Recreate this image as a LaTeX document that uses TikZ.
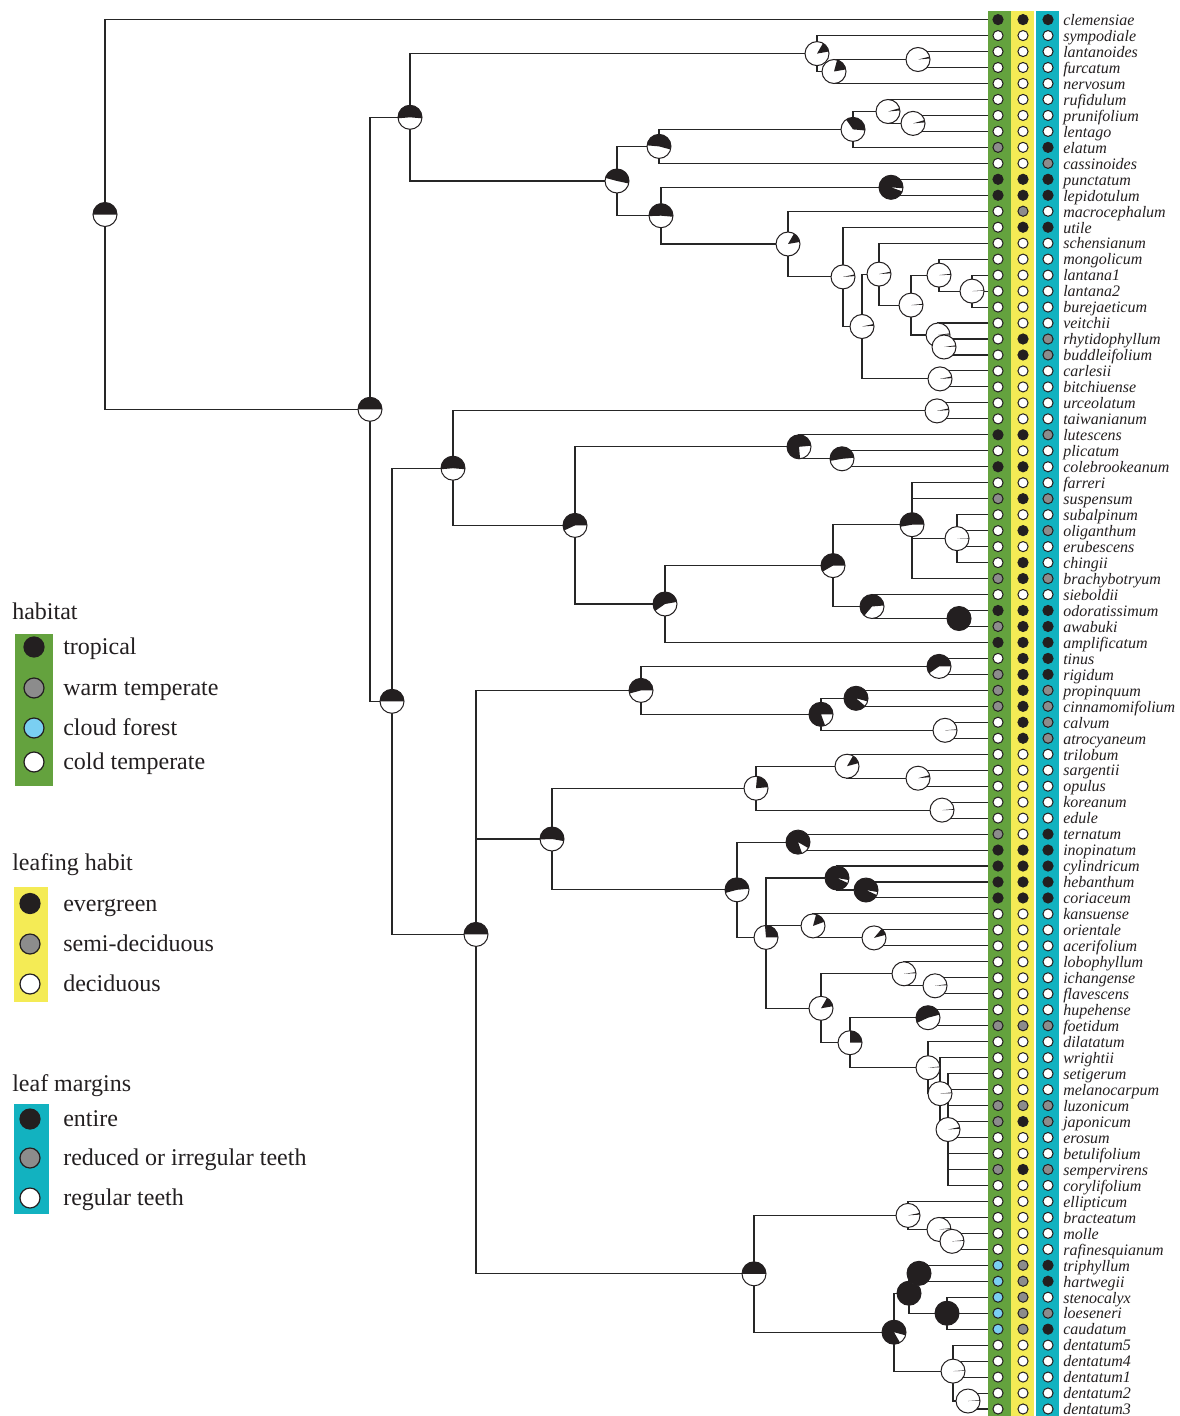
\documentclass[tikz,border=0pt]{standalone}
\usepackage{fontspec}
\setmainfont{Liberation Serif}
\usetikzlibrary{positioning}

\definecolor{habgreen}{HTML}{64A23E}
\definecolor{leafyellow}{HTML}{F4EB55}
\definecolor{margcyan}{HTML}{12B2C0}
\definecolor{st0}{HTML}{FFFFFF}
\definecolor{st1}{HTML}{8C8C8C}
\definecolor{st2}{HTML}{231F20}
\definecolor{st3}{HTML}{7ACFF2}
\definecolor{inkgrey}{HTML}{231F20}

\tikzset{
  branch/.style={line width=0.8pt, draw=black!85},
  tipdot/.style={circle, draw=inkgrey, line width=0.75pt, inner sep=0pt, minimum size=7.6pt},
  keydot/.style={circle, draw=inkgrey, line width=0.9pt, inner sep=0pt, minimum size=15pt},
  tiplabel/.style={anchor=base west, inner sep=0pt, font=\fontsize{12}{12}\selectfont\itshape, text=inkgrey},
  keytitle/.style={anchor=base west, inner sep=0pt, font=\fontsize{18}{18}\selectfont, text=inkgrey},
  keylabel/.style={anchor=base west, inner sep=0pt, font=\fontsize{18}{18}\selectfont, text=inkgrey}
}

% ancestral state pie: node, start angle, end angle of the black part
\newcommand{\ancpie}[3]{%
  \fill[white] (#1) circle (9pt);
  \fill[inkgrey] (#1) -- ++(#2:9pt) arc[start angle=#2, end angle=#3, radius=9pt] -- cycle;
  \draw[line width=0.75pt, inkgrey] (#1) circle (9pt);
}

\begin{document}
\begin{tikzpicture}[x=0.75pt, y=-0.75pt]
\useasboundingbox (0,0) rectangle (1180,1416);

% Character strips
        \fill[habgreen] (988,11) rectangle (1011,1416);
        \fill[leafyellow] (1011,11) rectangle (1034,1416);
        \fill[margcyan] (1036,11) rectangle (1059,1416);

% Tips
        \foreach \i/\tname/\hab/\lfh/\mrg in {
          1/clemensiae/2/2/2, 2/sympodiale/0/0/0, 3/lantanoides/0/0/0, 4/furcatum/0/0/0,
          5/nervosum/0/0/0, 6/rufidulum/0/0/0, 7/prunifolium/0/0/0, 8/lentago/0/0/0,
          9/elatum/1/0/2, 10/cassinoides/0/0/1, 11/punctatum/2/2/2, 12/lepidotulum/2/2/2,
          13/macrocephalum/0/1/0, 14/utile/0/2/2, 15/schensianum/0/0/0, 16/mongolicum/0/0/0,
          17/lantana1/0/0/0, 18/lantana2/0/0/0, 19/burejaeticum/0/0/0, 20/veitchii/0/0/0,
          21/rhytidophyllum/0/2/1, 22/buddleifolium/0/2/1, 23/carlesii/0/0/0, 24/bitchiuense/0/0/0,
          25/urceolatum/0/0/0, 26/taiwanianum/0/0/0, 27/lutescens/2/2/1, 28/plicatum/0/0/0,
          29/colebrookeanum/2/2/0, 30/farreri/0/0/0, 31/suspensum/1/2/1, 32/subalpinum/0/0/0,
          33/oliganthum/0/2/1, 34/erubescens/0/0/0, 35/chingii/0/2/0, 36/brachybotryum/1/2/1,
          37/sieboldii/0/0/0, 38/odoratissimum/2/2/2, 39/awabuki/1/2/2, 40/amplificatum/2/2/2,
          41/tinus/0/2/2, 42/rigidum/1/2/2, 43/propinquum/1/2/1, 44/cinnamomifolium/1/2/1,
          45/calvum/0/2/1, 46/atrocyaneum/0/2/1, 47/trilobum/0/0/0, 48/sargentii/0/0/0,
          49/opulus/0/0/0, 50/koreanum/0/0/0, 51/edule/0/0/0, 52/ternatum/1/0/2,
          53/inopinatum/2/2/2, 54/cylindricum/2/2/2, 55/hebanthum/2/2/2, 56/coriaceum/2/2/2,
          57/kansuense/0/0/0, 58/orientale/0/0/0, 59/acerifolium/0/0/0, 60/lobophyllum/0/0/0,
          61/ichangense/0/0/0, 62/flavescens/0/0/0, 63/hupehense/0/0/0, 64/foetidum/1/1/1,
          65/dilatatum/0/0/0, 66/wrightii/0/0/0, 67/setigerum/0/0/0, 68/melanocarpum/0/0/0,
          69/luzonicum/1/1/1, 70/japonicum/1/2/1, 71/erosum/0/0/0, 72/betulifolium/0/0/0,
          73/sempervirens/1/2/1, 74/corylifolium/0/0/0, 75/ellipticum/0/0/0, 76/bracteatum/0/0/0,
          77/molle/0/0/0, 78/rafinesquianum/0/0/0, 79/triphyllum/3/1/2, 80/hartwegii/3/1/2,
          81/stenocalyx/3/1/0, 82/loeseneri/3/1/1, 83/caudatum/3/1/2, 84/dentatum5/0/0/0,
          85/dentatum4/0/0/0, 86/dentatum1/0/0/0, 87/dentatum2/0/0/0, 88/dentatum3/0/0/0} {
          \pgfmathsetmacro\ty{19.6+(\i-1)*15.97}
          \coordinate (t\i) at (988,\ty);
          \node[tipdot, fill=st\hab] (h\i) at (998,\ty) {};
          \node[tipdot, fill=st\lfh] (f\i) at (1023,\ty) {};
          \node[tipdot, fill=st\mrg] (g\i) at (1048,\ty) {};
          \node[tiplabel] (lab\i) at (1063,\ty+5.8) {\tname};
        }

% Internal nodes
        \foreach \n/\x/\y in {
          root/105/214.5, nO/370/409.3, nE/410/117.3, nA3/817/53.6, nA2/834/71.5, nA1/918/59.5,
          nD/617/181.0, nB4/659/146.4, nB3/853/129.4, nB2/888/111.5, nB1/913/123.4,
          nC9/661/215.7, nC1/891/187.3, nC8/788/244.0, nC7/843/276.9, nC6/862/326.5,
          nC5/879/274.1, nC4/911/305.1, nCm/939/275.1, nCl/972/291.1, nCv/938/335.0,
          nCr/944/347.0, nCcb/940/378.9,
          nN/392/701.3, nF11/453/468.2, nF1/937/410.9, nF10/575/525.4, nF3/799/446.8,
          nF2/842/458.8, nF9/665/604.0, nF8/833/565.6, nF5/912/524.7, nF4/957/538.6,
          nF7/872/606.5, nF6/959/618.5,
          nM/476/934.4, nG5/641/690.4, nG1/939/666.4, nG4/821/714.3, nG2/856/698.3, nG3/945/730.3,
          nH5/552/839.0, nH4/756/788.2, nH2/847/766.2, nH1/918/778.2, nH3/942/810.1,
          nI7/737/889.8, nI1/798/842.1, nI6/766/937.4, nI3/837/878.0, nI2/866/890.0,
          nI5/813/925.9, nI4/874/937.9, nJ8/821/1008.3, nJ2/904/973.8, nJ1/935/985.8,
          nJ7/850/1042.7, nJ3/928/1017.7, nJ6/928/1067.7, nJ5/940/1093.6, nJ4/948/1129.5,
          nK4/754/1273.8, nK3/908/1215.4, nK2/939/1229.4, nK1/952/1241.3,
          nL6/894/1332.2, nL3/909/1293.2, nL1/919/1273.3, nL2/947/1313.2,
          nL5/953/1371.1, nL4/968/1401.0} {
          \coordinate (\n) at (\x,\y);
        }

% Branches
        \foreach \p/\c in {
          root/t1, root/nO, nO/nE, nO/nN, nE/nA3, nE/nD,
          nA3/t2, nA3/nA2, nA2/nA1, nA2/t5, nA1/t3, nA1/t4,
          nD/nB4, nD/nC9, nB4/nB3, nB4/t10, nB3/nB2, nB3/t9, nB2/t6, nB2/nB1, nB1/t7, nB1/t8,
          nC9/nC1, nC9/nC8, nC1/t11, nC1/t12, nC8/t13, nC8/nC7, nC7/t14, nC7/nC6,
          nC6/nC5, nC6/nCcb, nCcb/t23, nCcb/t24, nC5/t15, nC5/nC4, nC4/nCm, nC4/nCv,
          nCm/t16, nCm/nCl, nCl/t17, nCl/t18, nCl/t19, nCv/t20, nCv/nCr, nCr/t21, nCr/t22,
          nN/nF11, nN/nM, nF11/nF1, nF11/nF10, nF1/t25, nF1/t26,
          nF10/nF3, nF10/nF9, nF3/t27, nF3/nF2, nF2/t28, nF2/t29,
          nF9/nF8, nF9/t40, nF8/nF5, nF8/nF7, nF5/t30, nF5/t31, nF5/nF4, nF5/t36,
          nF4/t32, nF4/t33, nF4/t34, nF4/t35, nF7/t37, nF7/nF6, nF6/t38, nF6/t39,
          nM/nG5, nM/nH5, nM/nK4,
          nG5/nG1, nG5/nG4, nG1/t41, nG1/t42, nG4/nG2, nG4/nG3, nG2/t43, nG2/t44, nG3/t45, nG3/t46,
          nH5/nH4, nH5/nI7, nH4/nH2, nH4/nH3, nH2/t47, nH2/nH1, nH1/t48, nH1/t49, nH3/t50, nH3/t51,
          nI7/nI1, nI7/nI6, nI1/t52, nI1/t53, nI6/nI3, nI6/nI5, nI6/nJ8,
          nI3/t54, nI3/nI2, nI2/t55, nI2/t56, nI5/t57, nI5/nI4, nI4/t58, nI4/t59,
          nJ8/nJ2, nJ8/nJ7, nJ2/t60, nJ2/nJ1, nJ1/t61, nJ1/t62, nJ7/nJ3, nJ7/nJ6, nJ3/t63, nJ3/t64,
          nJ6/t65, nJ6/nJ5, nJ5/t66, nJ5/nJ4, nJ4/t67, nJ4/t68, nJ4/t69, nJ4/t70,
          nJ4/t71, nJ4/t72, nJ4/t73, nJ4/t74,
          nK4/nK3, nK4/nL6, nK3/t75, nK3/nK2, nK2/t76, nK2/nK1, nK1/t77, nK1/t78,
          nL6/nL3, nL6/nL5, nL3/nL1, nL3/nL2, nL1/t79, nL1/t80, nL2/t81, nL2/t82, nL2/t83,
          nL5/t84, nL5/t85, nL5/t86, nL5/nL4, nL4/t87, nL4/t88} {
          \draw[branch] (\p) |- (\c);
        }

% Ancestral state pies
        \foreach \n/\a/\b in {
          root/0/180, nO/0/180, nE/-5/185, nA3/10/60, nA2/10/75, nA1/5/14,
          nD/-12/165, nB4/-15/175, nB3/-5/125, nB2/5/16, nB1/5/16,
          nC9/-5/182, nC1/-5/340, nC8/10/60, nC7/4/12, nC6/4/12, nC5/4/12, nC4/1/6,
          nCm/1/6, nCl/1/4, nCv/2/8, nCr/2/8, nCcb/4/12,
          nN/0/180, nF11/-5/185, nF1/4/12, nF10/0/205, nF3/5/275, nF2/5/190, nF9/10/215,
          nF8/0/210, nF5/0/190, nF4/0/2, nF7/5/230, nF6/0/360,
          nM/0/180, nG5/0/195, nG1/0/215, nG4/0/290, nG2/-15/320, nG3/1/5,
          nH5/-10/182, nH4/5/85, nH2/15/60, nH1/5/15, nH3/1/5,
          nI7/5/195, nI1/-30/290, nI6/0/95, nI3/-10/335, nI2/-10/335, nI5/20/75, nI4/15/50,
          nJ8/10/60, nJ2/3/8, nJ1/3/8, nJ7/0/90, nJ3/15/205, nJ6/2/6, nJ5/2/6, nJ4/4/12,
          nK4/0/180, nK3/4/12, nK2/2/6, nK1/2/6,
          nL6/-15/300, nL3/0/360, nL1/0/360, nL2/0/360, nL5/1/4, nL4/1/4} {
          \ancpie{\n}{\a}{\b}
        }

% Legend: habitat
        \fill[habgreen] (15,634) rectangle (53,786);
        \node[keytitle] (habtitle) at (12,619) {habitat};
        \foreach \y/\c/\t [count=\k] in {647/st2/tropical, 688/st1/warm temperate,
          728/st3/cloud forest, 762/st0/cold temperate} {
          \node[keydot, fill=\c] (hk\k) at (34,\y) {};
          \node[keylabel] (hl\k) at (63,\y+7.5) {\t};
        }

% Legend: leafing habit
        \fill[leafyellow] (14,887) rectangle (48,1002);
        \node[keytitle] (leaftitle) at (12,870) {leafing habit};
        \foreach \y/\c/\t [count=\k] in {903.5/st2/evergreen, 944/st1/semi-deciduous,
          984/st0/deciduous} {
          \node[keydot, fill=\c] (fk\k) at (30,\y) {};
          \node[keylabel] (fl\k) at (63,\y+7.5) {\t};
        }

% Legend: leaf margins
        \fill[margcyan] (14,1104) rectangle (49,1214);
        \node[keytitle] (margtitle) at (12,1091) {leaf margins};
        \foreach \y/\c/\t [count=\k] in {1119/st2/entire, 1158/st1/reduced or irregular teeth,
          1198/st0/regular teeth} {
          \node[keydot, fill=\c] (gk\k) at (30,\y) {};
          \node[keylabel] (gl\k) at (63,\y+7.5) {\t};
        }

\end{tikzpicture}
\end{document}
